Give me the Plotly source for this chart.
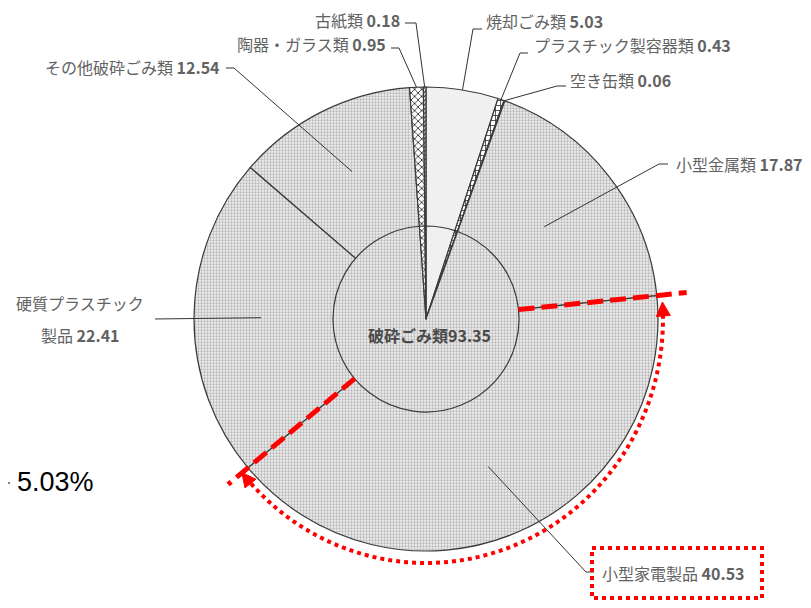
import math
import plotly.graph_objects as go

# 外側リング: 品目別の割合 (%)
outer_labels = ["焼却ごみ類", "プラスチック製容器類", "空き缶類", "小型金属類", "小型家電製品",
                "硬質プラスチック製品", "その他破砕ごみ類", "陶器・ガラス類", "古紙類"]
outer_values = [5.03, 0.43, 0.06, 17.87, 40.53, 22.41, 12.54, 0.95, 0.18]

# 内側: 破砕ごみ類をひとまとめにしたもの
inner_labels = ["焼却ごみ類", "プラスチック製容器類", "空き缶類", "破砕ごみ類", "陶器・ガラス類", "古紙類"]
inner_values = [5.03, 0.43, 0.06, 93.35, 0.95, 0.18]

side_note = "5.03%"

# ページの余白 (body margin 8px) を差し引いた図の大きさ
OFF = 8
W, H = 811 - OFF, 608 - OFF
CX, CY, R, R_IN = 426, 319, 232, 93


def fx(x):
    return (x - OFF) / W


def fy(y):
    return 1 - (y - OFF) / H


def polar(angle, rad):
    a = math.radians(angle)
    return CX + rad * math.sin(a), CY - rad * math.cos(a)


def path(points):
    return "M " + " L ".join(f"{fx(x):.5f},{fy(y):.5f}" for x, y in points)


# 各スライスの開始・終了角度 (12時から時計回り)
total = sum(outer_values)
bounds = []
acc = 0
for v in outer_values:
    bounds.append((acc / total * 360, (acc + v) / total * 360))
    acc += v
mid = {lab: (b[0] + b[1]) / 2 for lab, b in zip(outer_labels, bounds)}

# 塗り (パターン)
checker = dict(shape=".", fg="#b8b8b8", bg="#f0f0f0", size=3, sol=0.45)
styles = {
    "焼却ごみ類": dict(shape="", fg="#f0f0f0", bg="#f0f0f0", size=6, sol=0.3),
    "プラスチック製容器類": dict(shape="+", fg="#333333", bg="#ffffff", size=5, sol=0.3),
    "空き缶類": dict(shape="/", fg="#333333", bg="#ffffff", size=4, sol=0.3),
    "陶器・ガラス類": dict(shape="x", fg="#222222", bg="#ffffff", size=5, sol=0.3),
    "古紙類": dict(shape="/", fg="#222222", bg="#ffffff", size=3, sol=0.4),
}


def marker_for(labels):
    st = [styles.get(l, checker) for l in labels]
    return dict(
        colors=[s["bg"] for s in st],
        line=dict(color="#3a3a3a", width=1.2),
        pattern=dict(shape=[s["shape"] for s in st], fgcolor=[s["fg"] for s in st],
                     bgcolor=[s["bg"] for s in st], size=[s["size"] for s in st],
                     solidity=[s["sol"] for s in st]),
    )


fig = go.Figure()
fig.add_trace(go.Pie(
    labels=outer_labels, values=outer_values, sort=False, direction="clockwise", rotation=0,
    textinfo="none", hoverinfo="label+value", showlegend=False,
    marker=marker_for(outer_labels),
    domain=dict(x=[fx(CX - R), fx(CX + R)], y=[fy(CY + R), fy(CY - R)]),
))
fig.add_trace(go.Pie(
    labels=inner_labels, values=inner_values, sort=False, direction="clockwise", rotation=0,
    textinfo="none", hoverinfo="label+value", showlegend=False,
    marker=marker_for(inner_labels),
    domain=dict(x=[fx(CX - R_IN), fx(CX + R_IN)], y=[fy(CY + R_IN), fy(CY - R_IN)]),
))

# ラベル配置: (x, 行ごとのy, 揃え, 引き出し線の折れ点, 線の終点半径)
label_layout = {
    "古紙類": (402, [20], "right", [(405, 23), (416, 23)], R),
    "陶器・ガラス類": (388, [44], "right", [(391, 48), (399, 48)], R),
    "焼却ごみ類": (484, [21], "left", [(482, 29), (473, 29)], R),
    "プラスチック製容器類": (532, [45], "left", [(528, 53), (520, 53)], R),
    "空き缶類": (568, [80], "left", [(566, 86), (557, 86)], R),
    "小型金属類": (674, [164], "left", [(668, 164), (659, 164)], 150),
    "小型家電製品": (600, [573], "left", [(594, 572), (586, 572)], 160),
    "硬質プラスチック製品": (80, [303, 335], "center", [(155, 319)], 165),
    "その他破砕ごみ類": (222, [67], "right", [(226, 68), (234, 68)], 165),
}
# 2行に分けるラベル
split_names = {"硬質プラスチック製品": ["硬質プラスチック", "製品 "]}

label_font = dict(family="Noto Sans CJK JP", size=16, color="#626262")
shapes = []
annotations = []
for lab, val in zip(outer_labels, outer_values):
    x, ys, anchor, knees, rad = label_layout[lab]
    num = f"<b>{val:.2f}</b>"
    lines = split_names.get(lab, [lab + " "])
    lines = lines[:-1] + [lines[-1] + num]
    for line, y in zip(lines, ys):
        annotations.append(dict(x=fx(x), y=fy(y), xref="paper", yref="paper", text=line,
                                showarrow=False, xanchor=anchor, yanchor="middle",
                                font=label_font))
    pts = knees + [polar(mid[lab], rad)]
    shapes.append(dict(type="path", path=path(pts), xref="paper", yref="paper",
                       line=dict(color="#333333", width=1)))

# 中央ラベル
annotations.append(dict(x=fx(CX + 3), y=fy(335), xref="paper", yref="paper",
                        text=f"<b>{inner_labels[3]}{inner_values[3]:.2f}</b>", showarrow=False,
                        font=dict(family="Noto Sans CJK JP", size=16, color="#4a4a4a")))

# 小型家電製品の範囲を示す赤い破線
red = "#ff0000"
b_start, b_end = bounds[4]
for ang, rad_out in [(b_start, 262), (b_end, 258)]:
    shapes.append(dict(type="path", path=path([polar(ang, R_IN), polar(ang, rad_out)]),
                       xref="paper", yref="paper", line=dict(color=red, width=5, dash="16px,7px")))

# 点線の円弧と矢印
RX, RY = 237, 244


def arc_pt(a):
    t = math.radians(a)
    return CX + RX * math.sin(t), CY - RY * math.cos(t)


a1, a2 = 86.0, 231.0
arc = [arc_pt(a1 + 3 + i * (a2 - a1 - 6) / 80) for i in range(81)]
shapes.append(dict(type="path", path=path(arc), xref="paper", yref="paper",
                   line=dict(color=red, width=4, dash="dot")))


def arrow_head(a, sign):
    t = math.radians(a)
    tx, ty = RX * math.cos(t) * sign, RY * math.sin(t) * sign
    n = math.hypot(tx, ty)
    tx, ty = tx / n, ty / n
    px, py = arc_pt(a)
    bx, by = px - tx * 14, py - ty * 14
    return [(px, py), (bx - ty * 7, by + tx * 7), (bx + ty * 7, by - tx * 7), (px, py)]


for a, s in [(a1, -1), (a2, 1)]:
    shapes.append(dict(type="path", path=path(arrow_head(a, s)) + " Z", xref="paper", yref="paper",
                       fillcolor=red, line=dict(color=red, width=1)))

# 小型家電製品ラベルの枠
shapes.append(dict(type="rect", x0=fx(592), x1=fx(762), y0=fy(548), y1=fy(598),
                   xref="paper", yref="paper", line=dict(color=red, width=4, dash="dot")))

# 左端の注記
shapes.append(dict(type="line", x0=fx(8), x1=fx(10), y0=fy(483), y1=fy(483),
                   xref="paper", yref="paper", line=dict(color="#000000", width=1)))
annotations.append(dict(x=fx(15), y=fy(482), xref="paper", yref="paper", text=side_note,
                        showarrow=False, xanchor="left", yanchor="middle",
                        font=dict(family="Liberation Sans", size=27, color="#000000")))

fig.update_layout(
    width=W, height=H,
    margin=dict(l=0, r=0, t=0, b=0),
    paper_bgcolor="white", plot_bgcolor="white",
    shapes=shapes, annotations=annotations,
)

fig.write_html("out.html")
